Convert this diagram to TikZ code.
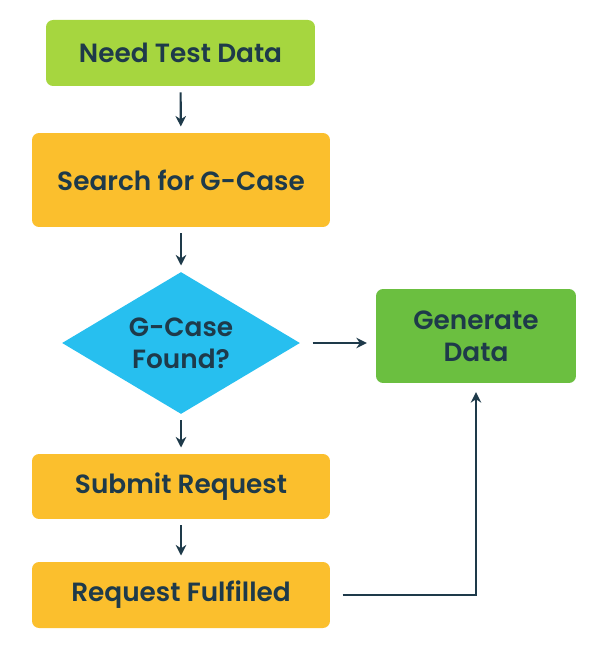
\documentclass[tikz,border=0pt]{standalone}
\usepackage{fontspec}
\setmainfont{Poppins}[BoldFont={* SemiBold}]
\usetikzlibrary{shapes.geometric,arrows.meta}
\definecolor{lg}{HTML}{A6D63F}
\definecolor{og}{HTML}{FBBF2D}
\definecolor{bl}{HTML}{27BFEF}
\definecolor{gr}{HTML}{6BBF40}
\definecolor{tx}{HTML}{1E3A4A}
\begin{document}
\begin{tikzpicture}[x=0.02cm,y=-0.02cm,
 box/.style={rounded corners=0.14cm,inner sep=0,text=tx,font=\fontsize{15}{18}\selectfont\bfseries,align=center},
 arr/.style={draw=tx,line width=1.2pt,-{Stealth[length=6pt,width=6pt]},shorten >=3.5pt,shorten <=3.5pt}]
\useasboundingbox (0,0) rectangle (600,651);
\node[box,fill=lg,minimum width=5.38cm,minimum height=1.32cm] (a) at (180.5,53) {Need Test Data};
\node[box,fill=og,minimum width=5.96cm,minimum height=1.88cm] (b) at (181,180) {Search for G-Case};
\node[diamond,fill=bl,aspect=1.68,inner sep=0,minimum width=4.76cm,minimum height=2.84cm,text=tx,font=\fontsize{15}{18}\selectfont\bfseries,align=center] (c) at (181,343) {G-Case\\Found?};
\node[box,fill=gr,minimum width=4cm,minimum height=1.88cm] (g) at (476,336) {Generate\\Data};
\node[box,fill=og,minimum width=5.96cm,minimum height=1.3cm] (d) at (181,486.5) {Submit Request};
\node[box,fill=og,minimum width=5.96cm,minimum height=1.32cm] (e) at (181,595) {Request Fulfilled};
\draw[arr] (a) -- (b);
\draw[arr] (b) -- (c);
\draw[arr,shorten <=7pt,shorten >=5pt] (c.east) -- (g.west|-c.east);
\draw[arr] (c) -- (d);
\draw[arr] (d) -- (e);
\draw[arr,shorten <=7pt,shorten >=5pt] (e.east) -| (g.south);
\end{tikzpicture}
\end{document}
